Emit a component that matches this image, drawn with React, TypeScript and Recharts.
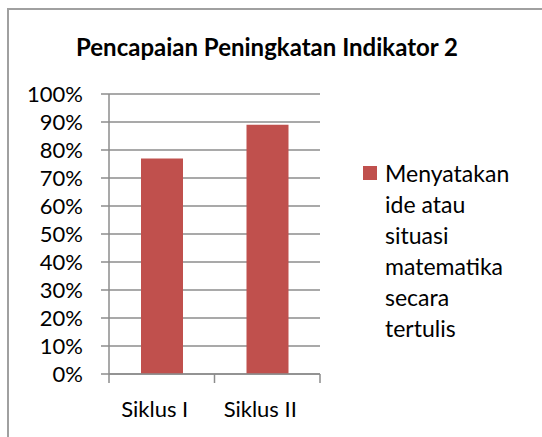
import React from 'react'
import { BarChart, Bar, XAxis, YAxis, CartesianGrid, Legend } from 'recharts'

// data
const categories = ['Siklus I', 'Siklus II']
const seriesName = 'Menyatakan ide atau situasi matematika secara tertulis'
const seriesValues = [0.77, 0.89]
const yTicks = [0, 0.1, 0.2, 0.3, 0.4, 0.5, 0.6, 0.7, 0.8, 0.9, 1]

const data = categories.map((c, i) => ({ name: c, value: seriesValues[i] }))

const barColor = '#C0504D'
const gridColor = '#8c8c8c'
const font = 'Lato, "Open Sans", sans-serif'

// category axis tick: Excel puts tick marks between the categories
const CatTick = (props: any) => {
  const { x, y, payload, index, visibleTicksCount } = props
  const half = payload.offset || 0
  const last = (visibleTicksCount ?? categories.length) - 1
  return (
    <g>
      <line x1={x - half} x2={x - half} y1={y} y2={y + 9} stroke={gridColor} strokeWidth={1.5} />
      {index === last && (
        <line x1={x + half} x2={x + half} y1={y} y2={y + 9} stroke={gridColor} strokeWidth={1.5} />
      )}
      <text x={x - 7} y={y + 43} textAnchor="middle" fill="#000" fontSize={22} fontFamily={font}>
        {payload.value}
      </text>
    </g>
  )
}

const LegendContent = () => (
  <div style={{ display: 'flex', alignItems: 'flex-start', fontFamily: font }}>
    <div style={{ width: 14, height: 14, background: barColor, marginTop: 8, marginRight: 8, flexShrink: 0 }} />
    <div style={{ fontSize: 23, lineHeight: '31px', color: '#000', width: 137 }}>{seriesName}</div>
  </div>
)

export default function App() {
  return (
    <div style={{ position: 'absolute', left: 0, top: 0, width: 542, height: 437, overflow: 'hidden', background: '#fff' }}>
      <div
        style={{
          position: 'absolute', left: 7, top: 8, width: 700, height: 600,
          borderLeft: '2px solid #a0a0a0', borderTop: '2px solid #a0a0a0',
        }}
      />
      <div
        style={{
          position: 'absolute', left: 0, top: 33, width: 534, textAlign: 'center',
          fontFamily: font, fontWeight: 700, fontSize: 24, lineHeight: 1.2, color: '#000',
        }}
      >
        Pencapaian Peningkatan Indikator 2
      </div>
      <BarChart
        width={542}
        height={437}
        data={data}
        margin={{ top: 94, right: 222, bottom: 13, left: 0 }}
        style={{ position: 'absolute', left: 0, top: 0 }}
      >
        <CartesianGrid vertical={false} stroke={gridColor} strokeWidth={1.5} />
        <XAxis
          dataKey="name"
          height={50}
          axisLine={{ stroke: gridColor, strokeWidth: 1.5 }}
          tickLine={false}
          tickSize={0}
          tickMargin={0}
          tick={<CatTick />}
          interval={0}
        />
        <YAxis
          width={109}
          domain={[0, 1]}
          ticks={yTicks}
          interval={0}
          tickFormatter={(v: number) => `${Math.round(v * 100)}%`}
          axisLine={{ stroke: gridColor, strokeWidth: 1.5 }}
          tickLine={{ stroke: gridColor, strokeWidth: 1.5 }}
          tickSize={8}
          tickMargin={18}
          tick={{ fill: '#000', fontSize: 22, fontFamily: font }}
        />
        <Legend
          layout="vertical"
          align="center"
          verticalAlign="middle"
          wrapperStyle={{ left: 363, top: 158, width: 175 }}
          content={<LegendContent />}
        />
        <Bar dataKey="value" name={seriesName} fill={barColor} barSize={42} isAnimationActive={false} />
      </BarChart>
    </div>
  )
}
